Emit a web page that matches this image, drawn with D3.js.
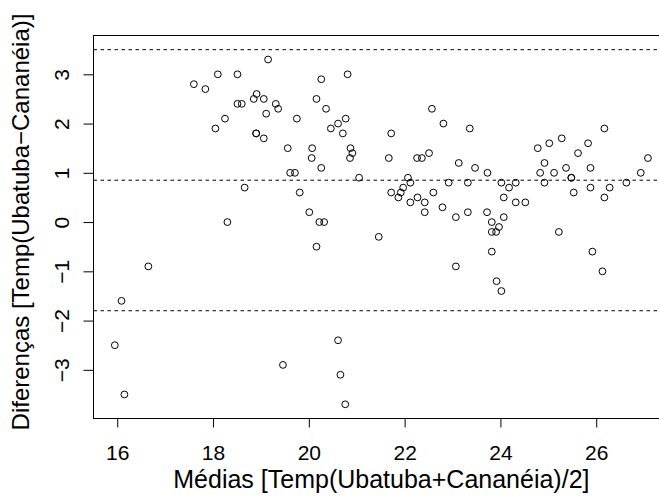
<!DOCTYPE html>
<html>
<head>
<meta charset="utf-8">
<script src="https://cdn.jsdelivr.net/npm/d3@7/dist/d3.min.js"></script>
<style>
  html, body { margin: 0; padding: 0; background: #fff; }
  svg { display: block; }
  text { font-family: "Liberation Sans", Arial, Helvetica, sans-serif; fill: #000; }
</style>
</head>
<body>
<svg id="chart" width="659" height="498"></svg>
<script>
// Bland–Altman plot: mean of the two stations vs. their difference
const medias = [
  17.60, 17.84, 18.10, 18.51, 18.51, 18.60, 18.25, 18.05, 19.15, 18.91,
  18.85, 19.06, 19.31, 19.36, 19.11, 18.90, 18.90, 19.06, 19.75, 19.56,
  20.07, 20.06, 20.26, 19.61, 19.71, 20.26, 20.81, 20.16, 20.36, 20.77,
  20.61, 20.46, 20.71, 20.87, 20.91, 20.86, 21.05, 18.66, 19.81, 20.01,
  18.30, 20.22, 20.32, 22.57, 21.72, 21.67, 22.26, 22.36, 22.51, 22.07,
  22.81, 23.36, 26.17, 23.13, 23.47, 23.73, 24.78, 25.02, 25.28, 25.62,
  25.83, 27.08, 24.92, 24.83, 25.12, 25.37, 25.88, 26.93, 25.48, 25.48,
  26.63, 25.53, 25.88, 26.28, 26.17, 22.92, 23.32, 24.02, 24.32, 24.92,
  24.18, 22.60, 24.07, 24.32, 24.52, 22.79, 23.07, 23.32, 23.72, 24.07,
  23.82, 23.97, 23.82, 23.91, 25.22, 23.82, 25.92, 23.07, 26.13, 23.92,
  24.02, 22.12, 21.97, 21.92, 21.87, 21.72, 22.27, 22.12, 22.42, 22.42,
  21.46, 20.16, 16.65, 16.09, 15.95, 16.15, 19.46, 20.61, 20.66, 20.76
];
const diferencas = [
  2.8, 2.7, 3.0, 3.0, 2.4, 2.4, 2.1, 1.9, 3.3, 2.6,
  2.5, 2.5, 2.4, 2.3, 2.2, 1.8, 1.8, 1.7, 2.1, 1.5,
  1.5, 1.3, 1.1, 1.0, 1.0, 2.9, 3.0, 2.5, 2.3, 2.1,
  2.0, 1.9, 1.8, 1.5, 1.4, 1.3, 0.9, 0.7, 0.6, 0.2,
  0.0, 0.0, 0.0, 2.3, 1.8, 1.3, 1.3, 1.3, 1.4, 0.9,
  2.0, 1.9, 1.9, 1.2, 1.1, 1.0, 1.5, 1.6, 1.7, 1.4,
  1.6, 1.3, 1.2, 1.0, 1.0, 1.1, 1.1, 1.0, 0.9, 0.9,
  0.8, 0.6, 0.7, 0.7, 0.5, 0.8, 0.8, 0.8, 0.8, 0.8,
  0.7, 0.6, 0.5, 0.4, 0.4, 0.3, 0.1, 0.2, 0.2, 0.1,
  0.0, -0.1, -0.2, -0.2, -0.2, -0.6, -0.6, -0.9, -1.0, -1.2,
  -1.4, 0.8, 0.7, 0.6, 0.5, 0.6, 0.5, 0.4, 0.4, 0.2,
  -0.3, -0.5, -0.9, -1.6, -2.5, -3.5, -2.9, -2.4, -3.1, -3.7
];
// mean difference and limits of agreement
const meanDiff = 0.85;
const limits = [-1.80, 3.50];

const xTicks = [16, 18, 20, 22, 24, 26];
const yTicks = [-3, -2, -1, 0, 1, 2, 3];
const xTitle = "Médias [Temp(Ubatuba+Cananéia)/2]";
const yTitle = "Diferenças [Temp(Ubatuba\u2212Cananéia)]";

const svg = d3.select("#chart");
const plotLeft = 93.5, plotTop = 35.5, plotBottom = 418.5;
const pxPerX = 47.9;

// ranges padded by 4% on each side
function padded(vals) {
  const [a, b] = d3.extent(vals);
  const p = (b - a) * 0.04;
  return [a - p, b + p];
}
const xDom = padded(medias);
const yDom = padded(diferencas.concat(limits));
const plotRight = plotLeft + (xDom[1] - xDom[0]) * pxPerX;

const x = d3.scaleLinear().domain(xDom).range([plotLeft, plotRight]);
const y = d3.scaleLinear().domain(yDom).range([plotBottom, plotTop]);

svg.append("rect").attr("width", 659).attr("height", 498).attr("fill", "#fff");

svg.append("clipPath").attr("id", "plotclip")
  .append("rect").attr("x", plotLeft).attr("y", plotTop)
  .attr("width", plotRight - plotLeft).attr("height", plotBottom - plotTop);

const plot = svg.append("g").attr("clip-path", "url(#plotclip)");

// reference lines
[limits[1], meanDiff, limits[0]].forEach(v => {
  plot.append("line")
    .attr("x1", plotLeft).attr("x2", plotRight)
    .attr("y1", y(v)).attr("y2", y(v))
    .attr("stroke", "#000").attr("stroke-width", 1)
    .attr("stroke-dasharray", "3.5,3.5");
});

// points
plot.selectAll("circle.pt")
  .data(medias.map((m, i) => [m, diferencas[i]]))
  .join("circle")
  .attr("class", "pt")
  .attr("cx", d => x(d[0]))
  .attr("cy", d => y(d[1]))
  .attr("r", 3.4)
  .attr("fill", "none")
  .attr("stroke", "#000")
  .attr("stroke-width", 1);

// frame
svg.append("rect")
  .attr("x", plotLeft).attr("y", plotTop)
  .attr("width", plotRight - plotLeft).attr("height", plotBottom - plotTop)
  .attr("fill", "none").attr("stroke", "#000").attr("stroke-width", 1);

const tickFont = 21;

// x axis
const gx = svg.append("g").attr("transform", `translate(0,${plotBottom})`)
  .call(d3.axisBottom(x).tickValues(xTicks).tickSize(9).tickSizeOuter(0)
    .tickFormat(d3.format("d")));
gx.select(".domain").remove();
gx.selectAll(".tick line").attr("stroke", "#000");
gx.selectAll(".tick text")
  .attr("y", 460 - plotBottom).attr("dy", 0)
  .attr("font-size", tickFont).attr("font-family", null);
gx.append("line")
  .attr("x1", x(xTicks[0])).attr("x2", x(xTicks[xTicks.length - 1]))
  .attr("stroke", "#000");

// y axis, labels parallel to the axis
const gy = svg.append("g").attr("transform", `translate(${plotLeft},0)`)
  .call(d3.axisLeft(y).tickValues(yTicks).tickSize(10).tickSizeOuter(0)
    .tickFormat(d3.format("d")));
gy.select(".domain").remove();
gy.selectAll(".tick line").attr("stroke", "#000");
gy.selectAll(".tick text")
  .attr("x", null).attr("dy", 0)
  .attr("text-anchor", "middle")
  .attr("transform", `translate(${68.5 - plotLeft},0) rotate(-90)`)
  .attr("font-size", tickFont).attr("font-family", null);
gy.append("line")
  .attr("y1", y(yTicks[0])).attr("y2", y(yTicks[yTicks.length - 1]))
  .attr("stroke", "#000");

// axis titles
svg.append("text")
  .attr("x", (plotLeft + plotRight) / 2).attr("y", 488)
  .attr("text-anchor", "middle").attr("font-size", 25)
  .text(xTitle);

svg.append("text")
  .attr("transform", `translate(29,222) rotate(-90)`)
  .attr("text-anchor", "middle").attr("font-size", 24)
  .text(yTitle);
</script>
</body>
</html>
